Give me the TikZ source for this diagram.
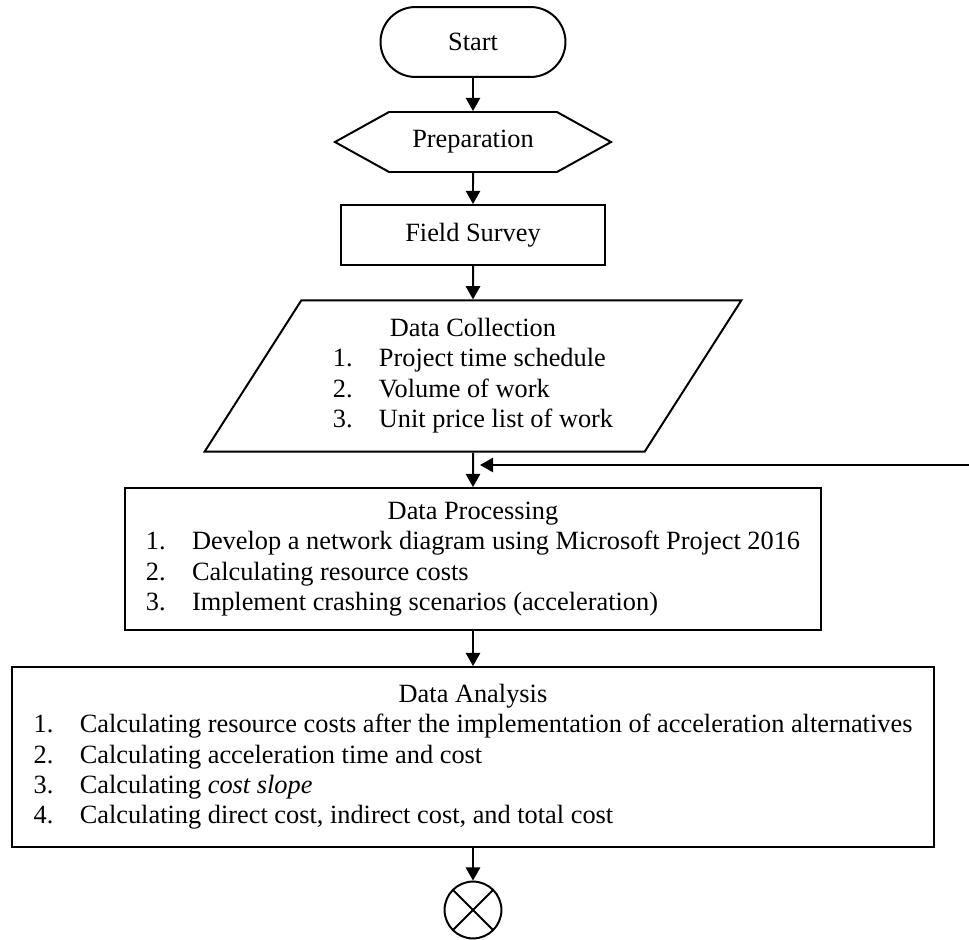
\documentclass[tikz,border=0pt]{standalone}
\usepackage{fontspec}
\setmainfont{Liberation Serif}
\usetikzlibrary{shapes.geometric,shapes.symbols,arrows.meta}
\tikzset{
    startstop/.style={draw, rounded corners=0.56cm, minimum width=2.96cm, minimum height=1.12cm},
    prep/.style={draw, signal, signal to=east and west, signal pointer angle=58, minimum width=4.42cm, minimum height=0.96cm},
    process/.style={draw, rectangle, inner sep=0pt},
    io/.style={draw, trapezium, trapezium left angle=54.4, trapezium right angle=125.6, trapezium stretches body, minimum width=8.59cm, minimum height=2.42cm},
    connector/.style={draw, circle, minimum size=0.91cm, inner sep=0pt,
        path picture={\draw (path picture bounding box.north west) -- (path picture bounding box.south east)
                            (path picture bounding box.north east) -- (path picture bounding box.south west);}},
    flow/.style={-{Triangle[length=6pt,width=6.5pt]}}
}
\newcommand{\itm}[2]{\makebox[21pt][l]{#1.}#2}

\begin{document}
\begin{tikzpicture}
  [
    x                 = 0.016cm,
    y                 = -0.016cm,
    line width        = 0.9pt,
    every node/.style = {font=\fontsize{12pt}{13.7pt}\selectfont, align=center},
  ]
  \useasboundingbox (0,0) rectangle (969,940);

  \node [startstop] (start) at (473,42) {Start};
  \node [prep] (prep) at (473,142) {Preparation};
  \node [process, minimum width=4.24cm, minimum height=0.96cm] (survey) at (473,235) {Field Survey};
  \node [io] (collect) at (473,376) {\begin{tabular}{@{}l@{}}
      \multicolumn{1}{@{}c@{}}{Data Collection}\\
      \itm{1}{Project time schedule}\\
      \itm{2}{Volume of work}\\
      \itm{3}{Unit price list of work}
    \end{tabular}};
  \node [process, minimum width=11.15cm, minimum height=2.27cm] (processing) at (473,559) {\begin{tabular}{@{}l@{}}
      \multicolumn{1}{@{}c@{}}{Data Processing}\\
      \itm{1}{Develop a network diagram using Microsoft Project 2016}\\
      \itm{2}{Calculating resource costs}\\
      \itm{3}{Implement crashing scenarios (acceleration)}
    \end{tabular}};
  \node [process, minimum width=14.77cm, minimum height=2.88cm] (analysis) at (473,757) {\begin{tabular}{@{}l@{}}
      \multicolumn{1}{@{}c@{}}{Data Analysis}\\
      \itm{1}{Calculating resource costs after the implementation of acceleration alternatives}\\
      \itm{2}{Calculating acceleration time and cost}\\
      \itm{3}{Calculating \textit{cost slope}}\\
      \itm{4}{Calculating direct cost, indirect cost, and total cost}
    \end{tabular}};
  \node [connector] (finish) at (473,910) {};

  % return line from the right
  \coordinate (loopin) at (969,465);
  \coordinate (loopout) at (480,465);

  \draw [flow] (start) -- (prep);
  \draw [flow] (prep) -- (survey);
  \draw [flow] (survey) -- (collect);
  \draw [flow] (collect) -- (processing);
  \draw [flow] (processing) -- (analysis);
  \draw [flow] (analysis) -- (finish);
  \draw [flow] (loopin) -- (loopout);
\end{tikzpicture}
\end{document}
